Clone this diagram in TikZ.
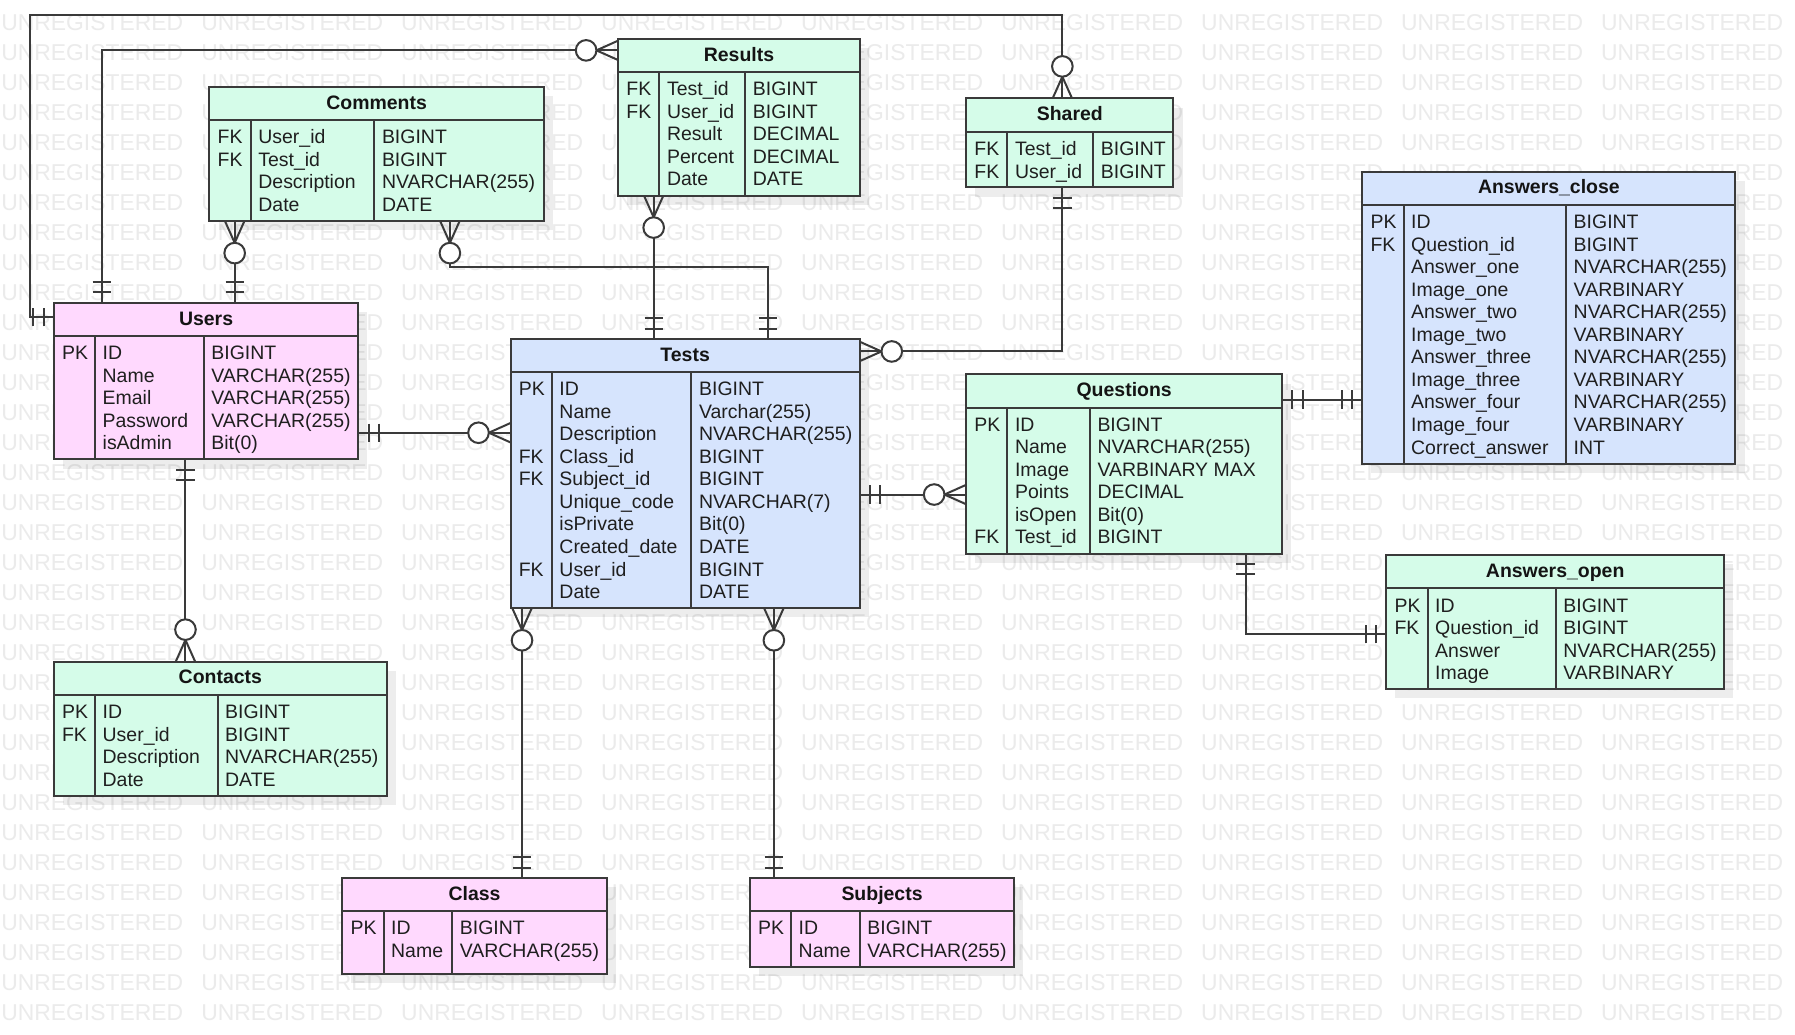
\documentclass[tikz,border=0pt]{standalone}
\usepackage{fontspec}
\setmainfont{Liberation Sans}
\usetikzlibrary{calc,fit}
\definecolor{lc}{HTML}{3A3A3A}
\definecolor{gf}{HTML}{D5FCE9}
\definecolor{pf}{HTML}{FFD9FE}
\definecolor{bf}{HTML}{D6E4FD}
\definecolor{wmc}{HTML}{EBEBEB}
\tikzset{
  cell/.style={anchor=base west, inner sep=0pt, font=\fontsize{17}{19.7}\selectfont, text=black!88},
  ttl/.style={anchor=base, inner sep=0pt, font=\fontsize{17}{19.7}\selectfont\bfseries, text=black!92},
  wm/.style={anchor=base west, inner sep=0pt, text=wmc, font=\fontsize{20}{20}\selectfont},
  conn/.style={draw=lc, line width=1.75pt},
  box/.style={draw=lc, line width=1.75pt, inner sep=0pt, outer sep=0pt},
}
% #1 name #2 L #3 T #4 R #5 B #6 d1 #7 d2 #8 fill #9 title
\newcommand\ertable[9]{%
  \fill[black,opacity=0.07] (#2+8,#3+8) rectangle (#4+8,#5+8);
  \node[box, fill=#8, fit={(#2,#3) (#4,#5)}] (#1) {};
  \draw[conn] (#2,#3+29) -- (#4,#3+29) (#6,#3+29) -- (#6,#5) (#7,#3+29) -- (#7,#5);
  \node[ttl] at ({(#2+#4)/2},#3+19.4) {#9};
}
\newcommand\ercol[3]{\foreach \t [count=\i from 0] in {#3} {\node[cell] at (#1,#2+19.7*\i) {\t};}}
\newcommand\erone[2]{\begin{scope}[shift={#1},rotate=#2]\draw[conn] (9,-8) -- (9,8) (18,-8) -- (18,8);\end{scope}}
\newcommand\ermany[2]{\begin{scope}[shift={#1},rotate=#2]\draw[conn] (0,-8.5) -- (19,0) -- (0,8.5);\draw[conn,fill=white] (28,0) circle[radius=9pt];\end{scope}}

\begin{document}
\begin{tikzpicture}[x=1pt,y=-1pt]
\useasboundingbox (0,0) rectangle (1568,904.1);
\fill[white] (0,0) rectangle (1568,904.1);
% watermark
\foreach \j in {0,...,33} {\foreach \i in {0,...,8} {\node[wm] at (0.9+174.7*\i, 26.8+26.19*\j) {UNREGISTERED};}}

% tables
\ertable{comments}{183}{76}{475}{193.1}{219}{327}{gf}{Comments}
\ercol{190}{125.6}{FK,FK,,}
\ercol{225.5}{125.6}{User\_id,Test\_id,Description,Date}
\ercol{333.5}{125.6}{BIGINT,BIGINT,NVARCHAR(255),DATE}

\ertable{results}{540}{34}{751}{170.8}{576}{651}{gf}{Results}
\ercol{547}{83.6}{FK,FK,,,}
\ercol{582.5}{83.6}{Test\_id,User\_id,Result,Percent,Date}
\ercol{657.5}{83.6}{BIGINT,BIGINT,DECIMAL,DECIMAL,DATE}

\ertable{shared}{844}{86}{1025}{163.7}{880}{955}{gf}{Shared}
\ercol{851}{136}{FK,FK}
\ercol{886.5}{136}{Test\_id,User\_id}
\ercol{961.5}{136}{BIGINT,BIGINT}

\ertable{aclose}{1190}{150}{1516}{405}{1226}{1368}{bf}{Answers\_close}
\ercol{1197}{199.6}{PK,FK}
\ercol{1232.5}{199.6}{ID,Question\_id,Answer\_one,Image\_one,Answer\_two,Image\_two,Answer\_three,Image\_three,Answer\_four,Image\_four,Correct\_answer}
\ercol{1374.5}{199.6}{BIGINT,BIGINT,NVARCHAR(255),VARBINARY,NVARCHAR(255),VARBINARY,NVARCHAR(255),VARBINARY,NVARCHAR(255),VARBINARY,INT}

\ertable{users}{47}{264.5}{313}{401.3}{83}{178}{pf}{Users}
\ercol{54}{314.1}{PK}
\ercol{89.5}{314.1}{ID,Name,Email,Password,isAdmin}
\ercol{184.5}{314.1}{BIGINT,VARCHAR(255),VARCHAR(255),VARCHAR(255),Bit(0)}

\ertable{tests}{446}{296}{751}{531.3}{482}{604}{bf}{Tests}
\ercol{453}{345.6}{PK,,,FK,FK,,,,FK,}
\ercol{488.5}{345.6}{ID,Name,Description,Class\_id,Subject\_id,Unique\_code,isPrivate,Created\_date,User\_id,Date}
\ercol{610.5}{345.6}{BIGINT,Varchar(255),NVARCHAR(255),BIGINT,BIGINT,NVARCHAR(7),Bit(0),DATE,BIGINT,DATE}

\ertable{questions}{844}{327}{1120}{483.5}{880}{952}{gf}{Questions}
\ercol{851}{376.6}{PK,,,,,FK}
\ercol{886.5}{376.6}{ID,Name,Image,Points,isOpen,Test\_id}
\ercol{958.5}{376.6}{BIGINT,NVARCHAR(255),VARBINARY MAX,DECIMAL,Bit(0),BIGINT}

\ertable{aopen}{1211}{485}{1506}{602.1}{1247}{1359}{gf}{Answers\_open}
\ercol{1218}{534.6}{PK,FK}
\ercol{1253.5}{534.6}{ID,Question\_id,Answer,Image}
\ercol{1365.5}{534.6}{BIGINT,BIGINT,NVARCHAR(255),VARBINARY}

\ertable{contacts}{47}{578}{338}{695.1}{83}{190}{gf}{Contacts}
\ercol{54}{627.6}{PK,FK}
\ercol{89.5}{627.6}{ID,User\_id,Description,Date}
\ercol{196.5}{627.6}{BIGINT,BIGINT,NVARCHAR(255),DATE}

\ertable{classes}{299}{767}{530}{851}{335}{395}{pf}{Class}
\ercol{306}{816.6}{PK}
\ercol{341.5}{816.6}{ID,Name}
\ercol{401.5}{816.6}{BIGINT,VARCHAR(255)}

\ertable{subjects}{655}{767}{886}{844.7}{691}{751}{pf}{Subjects}
\ercol{662}{816.6}{PK}
\ercol{697.5}{816.6}{ID,Name}
\ercol{757.5}{816.6}{BIGINT,VARCHAR(255)}

% connectors
\draw[conn] ($(users.north west)+(0,12.5)$) -- ++(-21,0) |- ($(shared.north west)+(84,-73)$) -- ($(shared.north west)+(84,0)$);
\draw[conn] ($(users.north west)+(42,0)$) |- ($(results.north west)+(0,10)$);
\draw[conn] ($(users.north west)+(158,0)$) -- ($(comments.south west)+(22,0)$);
\draw[conn] ($(comments.south west)+(210,0)$) -- ++(0,40) -| ($(tests.north west)+(225,0)$);
\draw[conn] ($(results.south west)+(31,0)$) -- ($(tests.north west)+(125,0)$);
\draw[conn] ($(shared.south west)+(84,0)$) |- ($(tests.north east)+(0,11)$);
\draw[conn] ($(users.north east)+(0,113.5)$) -- ($(tests.north west)+(0,82)$);
\draw[conn] ($(users.south west)+(115,0)$) -- ($(contacts.north west)+(115,0)$);
\draw[conn] ($(tests.south west)+(10,0)$) -- ($(classes.north west)+(157,0)$);
\draw[conn] ($(tests.south west)+(230,0)$) -- ($(subjects.north west)+(21,0)$);
\draw[conn] ($(tests.north east)+(0,136)$) -- ($(questions.north west)+(0,105)$);
\draw[conn] ($(questions.north east)+(0,22)$) -- ($(aclose.north west)+(0,199)$);
\draw[conn] ($(questions.south west)+(244,0)$) |- ($(aopen.north west)+(0,69)$);

% cardinality marks
\erone{($(users.north west)+(0,12.5)$)}{180}
\ermany{($(shared.north west)+(84,0)$)}{90}
\erone{($(users.north west)+(42,0)$)}{90}
\ermany{($(results.north west)+(0,10)$)}{180}
\erone{($(users.north west)+(158,0)$)}{90}
\ermany{($(comments.south west)+(22,0)$)}{-90}
\ermany{($(comments.south west)+(210,0)$)}{-90}
\erone{($(tests.north west)+(225,0)$)}{90}
\ermany{($(results.south west)+(31,0)$)}{-90}
\erone{($(tests.north west)+(125,0)$)}{90}
\erone{($(shared.south west)+(84,0)$)}{-90}
\ermany{($(tests.north east)+(0,11)$)}{0}
\erone{($(users.north east)+(0,113.5)$)}{0}
\ermany{($(tests.north west)+(0,82)$)}{180}
\erone{($(users.south west)+(115,0)$)}{-90}
\ermany{($(contacts.north west)+(115,0)$)}{90}
\ermany{($(tests.south west)+(10,0)$)}{-90}
\erone{($(classes.north west)+(157,0)$)}{90}
\ermany{($(tests.south west)+(230,0)$)}{-90}
\erone{($(subjects.north west)+(21,0)$)}{90}
\erone{($(tests.north east)+(0,136)$)}{0}
\ermany{($(questions.north west)+(0,105)$)}{180}
\erone{($(questions.north east)+(0,22)$)}{0}
\erone{($(aclose.north west)+(0,199)$)}{180}
\erone{($(questions.south west)+(244,0)$)}{-90}
\erone{($(aopen.north west)+(0,69)$)}{180}
\end{tikzpicture}
\end{document}
